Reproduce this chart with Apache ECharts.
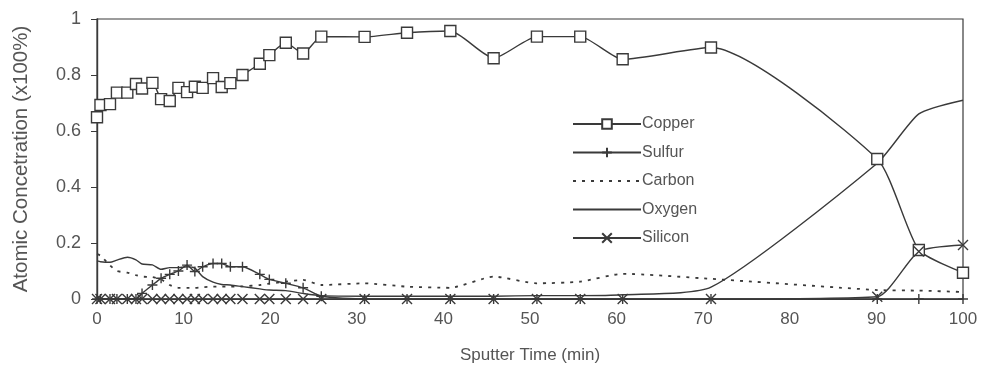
<!DOCTYPE html>
<html>
<head>
<meta charset="utf-8">
<script src="https://cdn.jsdelivr.net/npm/echarts@6/dist/echarts.min.js"></script>
<style>
html,body{margin:0;padding:0;background:#fff;}
#chart{width:982px;height:370px;}
</style>
</head>
<body>
<div id="chart"></div>
<script>
// Sputter time (min)
var times = [0, 0.4, 1.5, 2.3, 3.5, 4.5, 5.2, 6.4, 7.4, 8.4, 9.4, 10.4, 11.3, 12.2, 13.4, 14.4, 15.4, 16.8, 18.8, 19.9, 21.8, 23.8, 25.9, 30.9, 35.8, 40.8, 45.8, 50.8, 55.8, 60.7, 70.9, 90.1, 94.9, 100];
var copper = [0.649, 0.693, 0.696, 0.737, 0.737, 0.768, 0.752, 0.772, 0.714, 0.707, 0.754, 0.739, 0.758, 0.754, 0.789, 0.757, 0.771, 0.80, 0.84, 0.871, 0.915, 0.877, 0.937, 0.936, 0.951, 0.957, 0.86, 0.937, 0.937, 0.856, 0.898, 0.5, 0.175, 0.094];
var sulfur = [0, 0, 0, 0, 0, 0, 0.02, 0.05, 0.074, 0.088, 0.1, 0.121, 0.098, 0.115, 0.127, 0.127, 0.115, 0.115, 0.088, 0.07, 0.056, 0.04, 0.01, 0, 0, 0, 0, 0, 0, 0, 0, 0, 0, 0];
var carbon = [0.16, 0.155, 0.12, 0.1, 0.094, 0.085, 0.08, 0.078, 0.07, 0.05, 0.04, 0.04, 0.04, 0.042, 0.044, 0.044, 0.044, 0.045, 0.05, 0.055, 0.062, 0.068, 0.05, 0.056, 0.044, 0.04, 0.08, 0.056, 0.062, 0.09, 0.072, 0.032, 0.03, 0.025];
var oxygen = [0.136, 0.133, 0.131, 0.139, 0.149, 0.14, 0.125, 0.122, 0.106, 0.112, 0.112, 0.115, 0.11, 0.08, 0.06, 0.052, 0.05, 0.044, 0.036, 0.032, 0.03, 0.02, 0.012, 0.01, 0.01, 0.01, 0.01, 0.012, 0.012, 0.015, 0.042, 0.485, 0.661, 0.71];
var silicon = [0, 0, 0, 0, 0, 0, 0, 0, 0, 0, 0, 0, 0, 0, 0, 0, 0, 0, 0, 0, 0, 0, 0, 0, 0, 0, 0, 0, 0, 0, 0, 0.008, 0.17, 0.193];
var seriesNames = ['Copper', 'Sulfur', 'Carbon', 'Oxygen', 'Silicon'];
var xTicks = [0, 10, 20, 30, 40, 50, 60, 70, 80, 90, 100];
var yTicks = [0, 0.2, 0.4, 0.6, 0.8, 1];

function pairs(vals){ return times.map(function(t,i){ return [t, vals[i]]; }); }

var ink = '#3a3a3a';
var txt = '#555';
var font = 'Liberation Sans, Arial, sans-serif';

function mk(name, vals, symbol, size, dashed){
  var hasSym = !!symbol;
  return {
    name: name, type: 'line', data: pairs(vals),
    smooth: 0.2,
    symbol: hasSym ? symbol : 'rect', symbolSize: hasSym ? size : 1, showSymbol: hasSym, showAllSymbol: true,
    lineStyle: {color: ink, width: dashed ? 1.8 : 1.4, type: dashed ? [3, 6] : 'solid'},
    itemStyle: hasSym ? {color: '#fff', borderColor: ink, borderWidth: 1.4}
                      : {color: 'rgba(0,0,0,0)', borderColor: 'rgba(0,0,0,0)', borderWidth: 0},
    emphasis: {disabled: true},
    animation: false
  };
}

var chart = echarts.init(document.getElementById('chart'), null, {renderer: 'canvas'});
chart.setOption({
  backgroundColor: '#fff',
  animation: false,
  grid: {left: 97, right: 19, top: 19, bottom: 71, show: true, borderColor: ink, borderWidth: 1.2, backgroundColor: 'transparent'},
  xAxis: {
    type: 'value', min: xTicks[0], max: xTicks[xTicks.length - 1], interval: 10,
    name: 'Sputter Time (min)', nameLocation: 'middle', nameGap: 48,
    nameTextStyle: {color: txt, fontSize: 17, fontFamily: font},
    axisLine: {show: true, lineStyle: {color: ink, width: 1.2}},
    axisTick: {show: false},
    splitLine: {show: false},
    axisLabel: {color: txt, fontSize: 17, fontFamily: font, margin: 12}
  },
  yAxis: {
    type: 'value', min: yTicks[0], max: yTicks[yTicks.length - 1], interval: 0.2,
    name: 'Atomic Concetration (x100%)', nameLocation: 'middle', nameGap: 65, nameRotate: 90,
    nameTextStyle: {color: txt, fontSize: 20.5, fontFamily: font},
    axisLine: {show: true, lineStyle: {color: ink, width: 1.4}},
    axisTick: {show: true, inside: false, length: 6, lineStyle: {color: ink}},
    splitLine: {show: false},
    axisLabel: {color: txt, fontSize: 18, fontFamily: font, margin: 16}
  },
  legend: {
    orient: 'vertical', left: 567, top: 111,
    itemWidth: 68, itemHeight: 12, itemGap: 12.5,
    textStyle: {color: txt, fontSize: 16, fontFamily: font, padding: [0,0,0,-4]},
    data: seriesNames
  },
  series: [
    mk(seriesNames[0], copper, 'rect', 11, false),
    mk(seriesNames[1], sulfur, 'path://M5,0L5,10M0,5L10,5', 10, false),
    mk(seriesNames[2], carbon, null, 1, true),
    mk(seriesNames[3], oxygen, null, 1, false),
    mk(seriesNames[4], silicon, 'path://M0,0L10,10M10,0L0,10', 10, false)
  ]
});
</script>
</body>
</html>
